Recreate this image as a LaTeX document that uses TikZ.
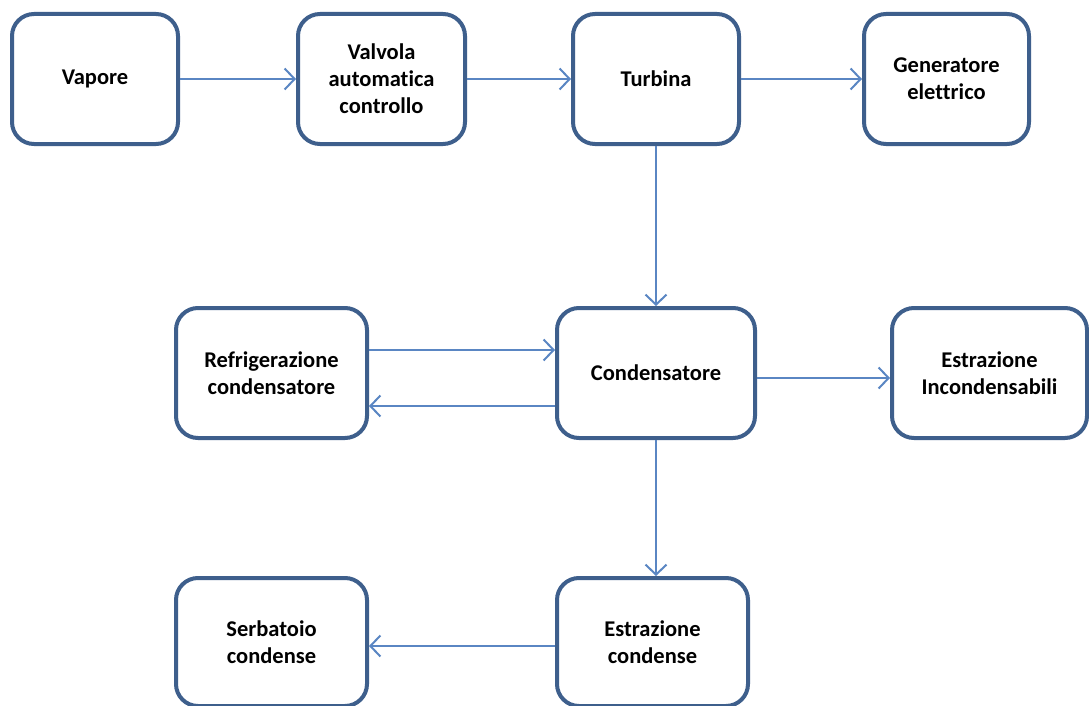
\documentclass[tikz,border=0pt]{standalone}
\usepackage{fontspec}
\setmainfont{Carlito}[Ligatures=NoCommon]
\usetikzlibrary{arrows.meta}
\definecolor{boxblue}{HTML}{3E5F8C}
\definecolor{arrowblue}{HTML}{5A86C3}
\begin{document}
\begin{tikzpicture}[x=1pt,y=-1pt,
  box/.style={draw=boxblue, line width=4pt, rounded corners=22pt, fill=white,
    align=center, font=\fontsize{22.5}{27}\selectfont\bfseries, text=black, inner sep=0pt},
  flow/.style={draw=arrowblue, line width=2pt,
    -{Straight Barb[length=10pt,width=21pt,line width=2pt]}}]
\useasboundingbox[fill=white] (0,0) rectangle (1089,706);
\node[box, minimum width=166pt, minimum height=130pt] (vap) at (95,79) {Vapore};
\node[box, minimum width=167pt, minimum height=130pt] (val) at (381.5,79) {Valvola\\automatica\\controllo};
\node[box, minimum width=166pt, minimum height=130pt] (tur) at (656,79) {Turbina};
\node[box, minimum width=165pt, minimum height=130pt] (gen) at (946.5,79) {Generatore\\elettrico};
\node[box, minimum width=191pt, minimum height=130pt] (ref) at (271.5,373) {Refrigerazione\\condensatore};
\node[box, minimum width=198pt, minimum height=130pt] (con) at (656,373) {Condensatore};
\node[box, minimum width=195pt, minimum height=130pt] (inc) at (989.5,373) {Estrazione\\Incondensabili};
\node[box, minimum width=191pt, minimum height=128pt] (ser) at (271.5,642) {Serbatoio\\condense};
\node[box, minimum width=191pt, minimum height=128pt] (est) at (652.5,642) {Estrazione\\condense};
\draw[flow] (vap) -- (val);
\draw[flow] (val) -- (tur);
\draw[flow] (tur) -- (gen);
\draw[flow] (tur.south) -- (con.north);
\draw[flow] ([yshift=23pt]ref.east) -- ([yshift=23pt]ref.east -| con.west);
\draw[flow] ([yshift=-33pt]con.west) -- ([yshift=-33pt]con.west -| ref.east);
\draw[flow] ([yshift=-5pt]con.east) -- ([yshift=-5pt]con.east -| inc.west);
\draw[flow] (con.south) -- (con.south |- est.north);
\draw[flow] ([yshift=-4pt]est.west) -- ([yshift=-4pt]est.west -| ser.east);
\end{tikzpicture}
\end{document}
